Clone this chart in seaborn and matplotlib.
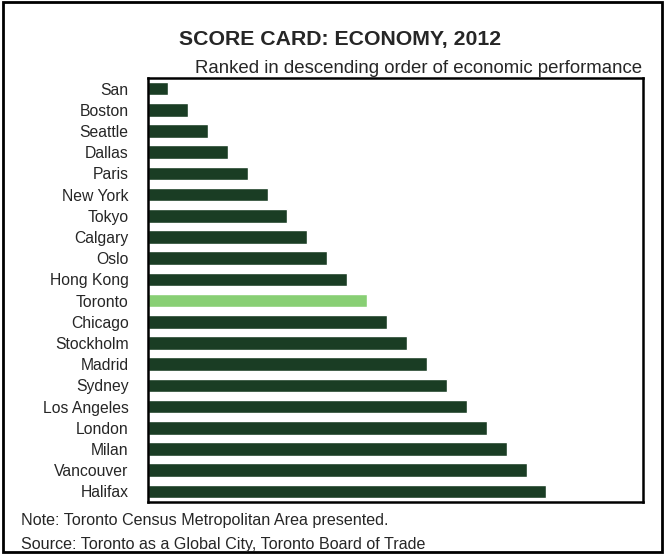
import pandas as pd
import matplotlib.pyplot as plt
import seaborn as sns
from matplotlib.patches import Rectangle

# cities, ranked (top = shortest bar)
cities = ['San', 'Boston', 'Seattle', 'Dallas', 'Paris', 'New York', 'Tokyo',
          'Calgary', 'Oslo', 'Hong Kong', 'Toronto', 'Chicago', 'Stockholm',
          'Madrid', 'Sydney', 'Los Angeles', 'London', 'Milan', 'Vancouver', 'Halifax']
scores = [1, 2, 3, 4, 5, 6, 7, 8, 9, 10, 11, 12, 13, 14, 15, 16, 17, 18, 19, 20]
highlight = 'Toronto'

dark_green = '#1a3d24'
light_green = '#88cf74'

df = pd.DataFrame({'city': cities, 'score': scores})
df['group'] = ['hl' if c == highlight else 'other' for c in cities]

sns.set_style('white')
plt.rcParams['font.family'] = ['Liberation Sans', 'DejaVu Sans']

fig = plt.figure(figsize=(6.65, 5.54), dpi=100)
ax = fig.add_axes([0.2226, 0.0939, 0.7444, 0.7653])

sns.barplot(data=df, y='city', x='score', hue='group', orient='h',
            palette={'other': dark_green, 'hl': light_green},
            width=0.64, legend=False, dodge=False, ax=ax, saturation=1)

ax.set_xlim(0, 24.85)
ax.set_ylim(19.5, -0.5)
ax.set_xlabel('')
ax.set_ylabel('')
ax.set_xticks([])
ax.tick_params(axis='y', length=0, pad=14, labelsize=11.3)
for s in ax.spines.values():
    s.set_visible(True)
    s.set_color('black')
    s.set_linewidth(1.8)

fig.text(0.511, 0.928, 'SCORE CARD: ECONOMY, 2012', ha='center', va='center',
         fontsize=15.3, fontweight='bold')
fig.text(0.966, 0.876, 'Ranked in descending order of economic performance',
         ha='right', va='center', fontsize=13.4)
fig.text(0.031, 0.060, 'Note: Toronto Census Metropolitan Area presented.',
         ha='left', va='center', fontsize=11.6)
fig.text(0.031, 0.018, 'Source: Toronto as a Global City, Toronto Board of Trade',
         ha='left', va='center', fontsize=11.6)

# outer frame
fig.patches.append(Rectangle((0.004, 0.004), 0.992, 0.992, transform=fig.transFigure,
                             fill=False, edgecolor='black', linewidth=2))

fig.savefig('out.png', dpi=100)
